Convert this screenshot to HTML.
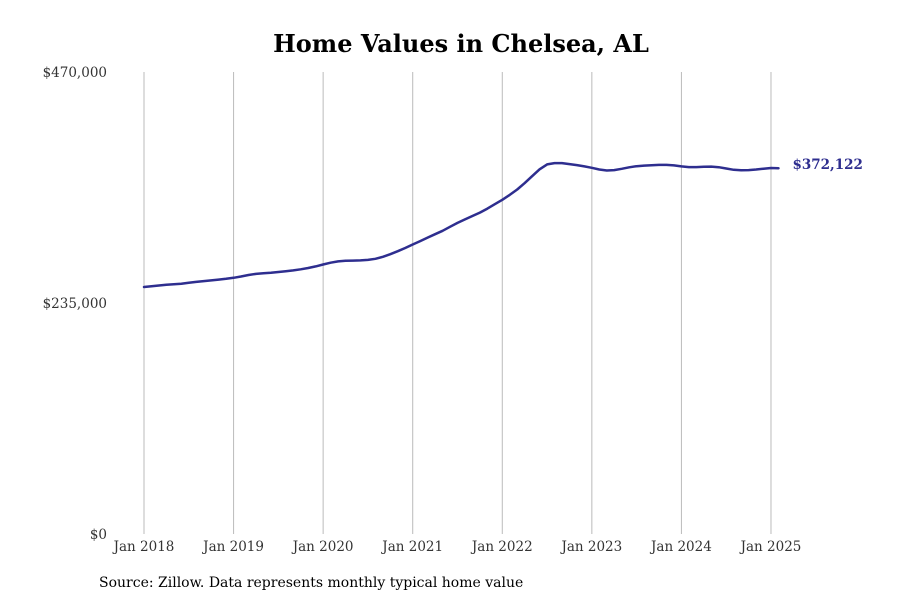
<!DOCTYPE html>
<html><head><meta charset="utf-8"><style>
body{margin:0;background:#fff;}
svg{display:block;font-family:"DejaVu Serif","Liberation Serif",serif;}
</style></head><body>
<svg id="chart" width="900" height="600" viewBox="0 0 900 600">
<text x="461" y="52" text-anchor="middle" font-size="24" font-weight="bold" fill="#000">Home Values in Chelsea, AL</text>
<g id="grid"></g>
<g id="yaxis"></g>
<g id="xaxis"></g>
<g id="series"></g>
<text x="99" y="587" font-size="14" fill="#000">Source: Zillow. Data represents monthly typical home value</text>
</svg>
<script>
const yearLabels=["Jan 2018","Jan 2019","Jan 2020","Jan 2021","Jan 2022","Jan 2023","Jan 2024","Jan 2025"];
const yTicks=[0,235000,470000];
const yTickLabels=["$0","$235,000","$470,000"];
const values=[
251.3,252,252.8,253.5,254,254.6,255.5,256.5,257.3,258,258.8,259.6,
260.6,262,263.5,264.6,265.3,265.8,266.5,267.3,268.2,269.3,270.6,272.2,
274.2,276,277.3,277.9,278.1,278.3,278.8,280,282,284.6,287.7,291,
294.5,298,301.5,305,308.5,312.5,316.5,320,323.5,327,331,335.5,
340,345,350.5,357,364,371,376,377.3,377.3,376.3,375.3,374,
372.5,370.8,369.8,370.2,371.5,373,374.2,374.8,375.2,375.5,375.5,375,
374,373.3,373.3,373.6,373.8,373.2,371.8,370.5,370,370.2,370.8,371.6,
372.3,372.122];
const lastLabel="$372,122";
const NS="http://www.w3.org/2000/svg";
const x0=144,yearW=89.57,yBase=534,yTop=72,yMax=470000;
const xS=i=>x0+i*yearW/12;
const yS=v=>yBase-v/yMax*(yBase-yTop);
function mk(t,a,p){const e=document.createElementNS(NS,t);for(const k in a)e.setAttribute(k,a[k]);p.appendChild(e);return e;}
const grid=document.getElementById('grid'),xa=document.getElementById('xaxis'),ya=document.getElementById('yaxis'),se=document.getElementById('series');
yearLabels.forEach((l,i)=>{
 const x=xS(i*12);
 const g=mk('line',{x1:x,x2:x,y1:yTop,y2:yBase,stroke:'#bbb','stroke-width':1},grid);
 
 
 const t=mk('text',{x:x,y:551,'text-anchor':'middle','font-size':13.5,fill:'#333'},xa);
 t.textContent=l;
 
 
});
yTicks.forEach((v,i)=>{
 const t=mk('text',{x:107,y:yS(v)+5,'text-anchor':'end','font-size':13.5,fill:'#333'},ya);
 t.textContent=yTickLabels[i];
 
 
});
const pts=values.map((v,i)=>xS(i).toFixed(1)+','+yS(v*1000).toFixed(1)).join(' ');
const pl=mk('polyline',{points:pts,fill:'none',stroke:'#2e2e8f','stroke-width':2.5,'stroke-linejoin':'round','stroke-linecap':'round'},se);


const li=values.length-1;
const lt=mk('text',{x:xS(li)+14,y:yS(values[li]*1000)+1,'font-size':13.5,'font-weight':'bold',fill:'#2e2e8f'},se);
lt.textContent=lastLabel;


</script>
</body></html>
